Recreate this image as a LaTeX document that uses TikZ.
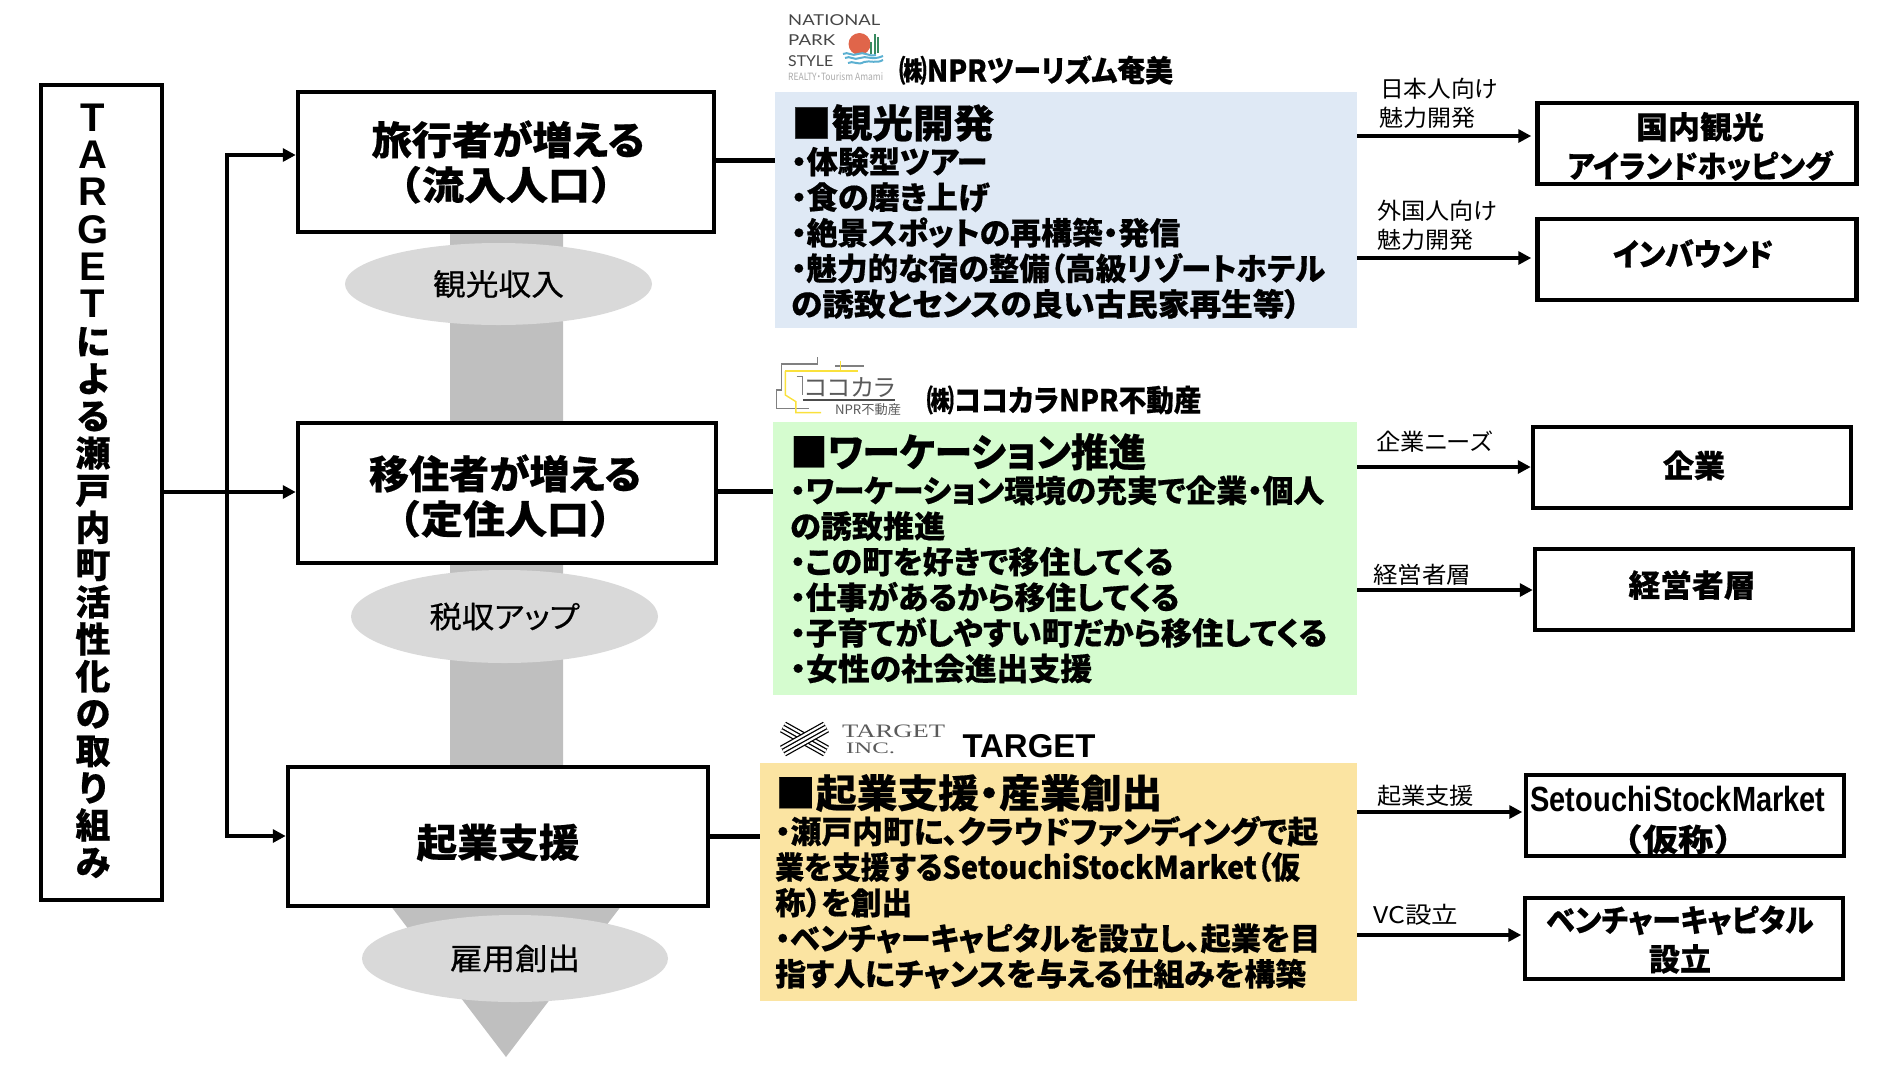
\documentclass[tikz,border=0pt]{standalone}
\usepackage{fontspec}
\usetikzlibrary{shapes.geometric,arrows.meta,calc}
\setmainfont{Noto Sans CJK JP}[RawFeature={+palt},BoldFeatures={FakeBold=0.5}]
\newfontfamily\jpfull{Noto Sans CJK JP}[BoldFeatures={FakeBold=0.5}]
\newfontfamily\jpsemi{Noto Sans CJK JP}[RawFeature={+palt},FakeBold=0.6]
\newfontfamily\arialf{Liberation Sans}
\newfontfamily\serf{Liberation Serif}
\newfontfamily\lato{Lato}
\newsavebox\fitbox
\newcommand{\fitline}[2]{\sbox\fitbox{#2}\pgfmathsetmacro\fitr{#1/\the\wd\fitbox}\scalebox{\fitr}[1]{\usebox\fitbox}}
\newcommand{\fsz}[2]{\fontsize{#1}{#2}\selectfont}
\newcommand{\nudge}[3]{\raisebox{#2}[\height][\depth]{\kern#1\relax #3\kern-#1\relax}}
\newcommand{\biglat}[1]{{\arialf\fontsize{40}{37.2}\selectfont #1}}
\definecolor{panelblue}{HTML}{DFE9F5}
\definecolor{panelgreen}{HTML}{D5FCCF}
\definecolor{panelyellow}{HTML}{FBE4A2}
\definecolor{flowgray}{HTML}{BFBFBF}
\definecolor{ellgray}{HTML}{D9D9D9}
\definecolor{logosun}{RGB}{224,101,74}
\definecolor{logoplant}{RGB}{56,138,96}
\definecolor{logowave}{RGB}{92,176,209}
\definecolor{logotext}{RGB}{70,70,70}
\definecolor{logopale}{RGB}{170,170,170}
\definecolor{logomid}{RGB}{90,90,90}
\definecolor{logoyellow}{RGB}{250,225,60}
\tikzset{
  bx/.style={draw=black,line width=4.5pt,fill=white,inner sep=0pt,align=center},
  lbox/.style={bx,font=\bfseries\fsz{39}{45}},
  rbox/.style={bx,font=\bfseries\fsz{31}{39}},
  panel/.style={inner sep=0pt,outer sep=0pt},
  ptext/.style={inner sep=0pt,anchor=north west,align=left,font=\bfseries\fsz{31}{35.6}},
  oval/.style={ellipse,fill=ellgray,inner sep=0pt,font=\jpsemi\fsz{30}{34}},
  elabel/.style={inner sep=0pt,align=left,font=\fsz{23}{29}},
  company/.style={inner sep=0pt,font=\bfseries\fsz{30}{34}},
  link/.style={line width=4pt},
  thick link/.style={line width=5pt},
  arr/.style={line width=3.6pt,-{Triangle[length=13pt,width=13pt]}},
  logo/.style={inner sep=0pt}
}
\begin{document}
\begin{tikzpicture}[x=1pt,y=-1pt]
\useasboundingbox (0,0) rectangle (1880,1072);
% flow arrow
\fill[flowgray] (450,225) -- (563,225) -- (563,880) -- (641,880) -- (506,1057) -- (371,880) -- (450,880) -- cycle;
% panels
\node[panel,fill=panelblue,minimum width=582pt,minimum height=236pt] (p1) at (1066,210) {};
\node[panel,fill=panelgreen,minimum width=584pt,minimum height=273pt] (p2) at (1065,558.5) {};
\node[panel,fill=panelyellow,minimum width=597pt,minimum height=238pt] (p3) at (1058.5,882) {};
% left title
\node[bx,minimum width=121pt,minimum height=815pt] (ttl) at (101.5,492.5) {};
\node[inner sep=0pt,align=center,font=\bfseries\fsz{35}{37.2}] (ttltext) at (93,491) {\lineskiplimit=-60pt\relax \biglat{T}\\\biglat{A}\\\biglat{R}\\\biglat{G}\\\biglat{E}\\\biglat{T}\\に\\よ\\る\\瀬\\戸\\内\\町\\活\\性\\化\\の\\取\\り\\組\\み};
% main boxes
\node[lbox,minimum width=416pt,minimum height=140pt] (b1) at (506,162) {\nudge{2pt}{0pt}{\fitline{273}{旅行者が増える}}\\{\fitline{252}{\jpfull\bfseries （流入人口）}}};
\node[lbox,minimum width=418pt,minimum height=140pt] (b2) at (507,493) {\nudge{-2pt}{-3pt}{\fitline{272}{移住者が増える}}\\\nudge{-2pt}{-3pt}{\fitline{252}{\jpfull\bfseries （定住人口）}}};
\node[lbox,minimum width=420pt,minimum height=139pt] (b3) at (498,836.5) {\nudge{0pt}{-6pt}{\fitline{163}{起業支援}}};
% ovals
\node[oval,minimum width=307pt,minimum height=82pt] (o1) at (498.5,284) {\fitline{131}{観光収入}};
\node[oval,minimum width=307pt,minimum height=93pt] (o2) at (504.5,616.5) {\fitline{150}{税収アップ}};
\node[oval,minimum width=306pt,minimum height=87pt] (o3) at (515,958.5) {\fitline{130}{雇用創出}};
% left connectors
\coordinate (j1) at (227,155);
\coordinate (j2) at (227,492);
\coordinate (j3) at (227,836);
\draw[link,line join=miter] (j1) -- (j3);
\draw[arr] (ttl.east |- j2) -- (b2.west |- j2);
\draw[arr] ([xshift=-2pt]j1) -- (b1.west |- j1);
\draw[arr] ([xshift=-2pt]j3) -- (b3.west |- j3);
% main to panel
\coordinate (m1) at (740,160);
\coordinate (m2) at (740,491.7);
\coordinate (m3) at (740,836.7);
\draw[thick link] (b1.east |- m1) -- (p1.west |- m1);
\draw[thick link] (b2.east |- m2) -- (p2.west |- m2);
\draw[thick link] (b3.east |- m3) -- (p3.west |- m3);
% panel text
\node[ptext] (t1) at (791,104) {\fitline{203}{\fsz{39}{44}■観光開発}\\[0pt]
\fitline{196}{・体験型ツアー}\\
\fitline{198}{・食の磨き上げ}\\
\fitline{389}{・絶景スポットの再構築・発信}\\
\fitline{534}{・魅力的な宿の整備（高級リゾートホテル}\\
\fitline{509}{の誘致とセンスの良い古民家再生等）}};
\node[ptext] (t2) at (790,433) {\fitline{356}{\fsz{39}{44}■ワーケーション推進}\\[0pt]
\fitline{534}{・ワーケーション環境の充実で企業・個人}\\
\fitline{155}{の誘致推進}\\
\fitline{383}{・この町を好きで移住してくる}\\
\fitline{389}{・仕事があるから移住してくる}\\
\fitline{537}{・子育てがしやすい町だから移住してくる}\\
\fitline{302}{・女性の社会進出支援}};
\node[ptext] (t3) at (775,774) {\fitline{387}{\fsz{39}{44}■起業支援・産業創出}\\[0pt]
\fitline{543}{・瀬戸内町に、クラウドファンディングで起}\\
\fitline{525}{業を支援するSetouchiStockMarket（仮}\\
\fitline{137}{称）を創出}\\
\fitline{545}{・ベンチャーキャピタルを設立し、起業を目}\\
\fitline{531}{指す人にチャンスを与える仕組みを構築}};
% company names
\node[company] (c1) at (1036,70) {\fitline{274}{㈱NPRツーリズム奄美}};
\node[company] (c2) at (1064,400) {\fitline{275}{㈱ココカラNPR不動産}};
\node[company,font=\bfseries\fsz{33}{36}] (c3) at (1029,746) {\fitline{133}{\arialf TARGET}};
% right boxes
\node[rbox,minimum width=319pt,minimum height=81pt] (r1) at (1697,143.5) {\nudge{3pt}{-3pt}{\fitline{128}{国内観光}}\\\nudge{3pt}{-3pt}{\fitline{265}{アイランドホッピング}}};
\node[rbox,minimum width=319pt,minimum height=81pt] (r2) at (1697,259.5) {\nudge{-4pt}{6pt}{\fitline{160}{インバウンド}}};
\node[rbox,minimum width=318pt,minimum height=81pt] (r3) at (1692,467.5) {\nudge{2pt}{2pt}{\fitline{62}{企業}}};
\node[rbox,minimum width=318pt,minimum height=81pt] (r4) at (1694,589.5) {\nudge{-2pt}{4.5pt}{\fitline{127}{経営者層}}};
\node[rbox,minimum width=318pt,minimum height=81pt] (r5) at (1685,815.5) {\nudge{-7pt}{-4pt}{\fitline{295}{\fsz{35}{39}\arialf SetouchiStockMarket}}\\\nudge{-7pt}{-5pt}{\fitline{142}{\jpfull\bfseries （仮称）}}};
\node[rbox,minimum width=318pt,minimum height=81pt] (r6) at (1684,938.5) {\nudge{-4pt}{-1pt}{\fitline{267}{ベンチャーキャピタル}}\\\nudge{-4pt}{-1pt}{\fitline{62}{設立}}};
% panel to right boxes
\coordinate (a1) at (1440,136);
\coordinate (a2) at (1440,258);
\coordinate (a3) at (1440,467);
\coordinate (a4) at (1440,590);
\coordinate (a5) at (1440,812);
\coordinate (a6) at (1440,935);
\draw[arr,shorten >=4pt] (p1.east |- a1) -- (r1.west |- a1);
\draw[arr,shorten >=4pt] (p1.east |- a2) -- (r2.west |- a2);
\draw[arr] (p2.east |- a3) -- (r3.west |- a3);
\draw[arr] (p2.east |- a4) -- (r4.west |- a4);
\draw[arr,shorten >=1.5pt] (p3.east |- a5) -- (r5.west |- a5);
\draw[arr,shorten >=1.5pt] (p3.east |- a6) -- (r6.west |- a6);
% edge labels
\node[elabel,anchor=west] (e1) at (1379,103) {\hspace*{1pt}\fitline{118}{日本人向け}\\\fitline{96}{魅力開発}};
\node[elabel,anchor=west] (e2) at (1377,225.5) {\fitline{120}{外国人向け}\\\fitline{96}{魅力開発}};
\node[elabel,anchor=west] (e3) at (1376,442) {\fitline{116}{企業ニーズ}};
\node[elabel,anchor=west] (e4) at (1373,575) {\fitline{98}{経営者層}};
\node[elabel,anchor=west] (e5) at (1377,796) {\fitline{97}{起業支援}};
\node[elabel,anchor=west] (e6) at (1373,915) {\fitline{85}{VC設立}};
% logo NATIONAL PARK STYLE
\fill[logosun] (859.5,44) circle (11pt);
\draw[line width=2pt,logoplant] (875,34) -- (875,55);
\draw[line width=1.8pt,logoplant] (871,42) -- (871,55);
\draw[line width=1.8pt,logoplant] (878,37) -- (878,53);
\fill[white] (843,53.5) rectangle (884,66);
\draw[line width=2pt,logowave] (843,54) .. controls (848,51) and (852,57) .. (858,54) .. controls (864,51) and (868,57) .. (876,55);
\draw[line width=2pt,logowave] (845,58) .. controls (850,55) and (854,61) .. (860,58) .. controls (866,55) and (872,61) .. (883,56);
\draw[line width=2pt,logowave] (848,63) .. controls (853,60) and (858,66) .. (864,62) .. controls (870,60) and (876,64) .. (883,60);
\node[logo,anchor=west,font=\fsz{15}{18}\lato,text=logotext] (l1a) at (788,20) {\fitline{92}{NATIONAL}};
\node[logo,anchor=west,font=\fsz{15}{18}\lato,text=logotext] (l1b) at (788,40) {\fitline{47}{PARK}};
\node[logo,anchor=west,font=\fsz{15}{18}\lato,text=logotext] (l1c) at (788,61) {\fitline{45}{STYLE}};
\node[logo,anchor=west,font=\fsz{10}{12},text=logopale] (l1d) at (788,77) {\fitline{95}{REALTY・Tourism Amami}};
% logo cococara
\begin{scope}[shift={(760,340)},xscale=0.408,yscale=0.3333]
\draw[line width=1.2pt,gray] (40,205) -- (40,150) -- (52,150) -- (52,72) -- (140,72) -- (140,52);
\draw[line width=1.2pt,gray] (185,78) -- (255,78);
\draw[line width=1.2pt,gray] (90,110) -- (105,110) -- (105,165);
\draw[line width=1.2pt,gray] (40,205) -- (120,205);
\draw[line width=1.2pt,black!70] (105,180) -- (330,180);
\draw[line width=1.4pt,logoyellow] (62,93) -- (240,93);
\draw[line width=1.4pt,logoyellow] (198,62) -- (198,93);
\draw[line width=1.4pt,logoyellow] (62,93) -- (62,165) -- (88,185) -- (88,218) -- (150,218);
\end{scope}
\node[logo,font=\fsz{24}{26},text=logomid] (l2a) at (850,388) {\fitline{90}{ココカラ}};
\node[logo,font=\fsz{13}{15},text=logomid] (l2b) at (868,410) {\fitline{66}{NPR不動産}};
% logo target
\foreach \st/\en in {{(783,727)}/{(826,751)},{(826,727)}/{(783,751)}}{
\draw[line width=12pt,black] \st -- \en;
\draw[line width=9.5pt,white] \st -- \en;
\draw[line width=5pt,black] \st -- \en;
\draw[line width=2.4pt,white] \st -- \en;
}
\node[logo,anchor=west,font=\fsz{19}{21}\serf,text=logomid] (l3a) at (842,731) {\fitline{103}{TARGET}};
\node[logo,anchor=west,font=\fsz{16}{18}\serf,text=logomid] (l3b) at (846,748) {\fitline{49}{INC.}};
\end{tikzpicture}
\end{document}
